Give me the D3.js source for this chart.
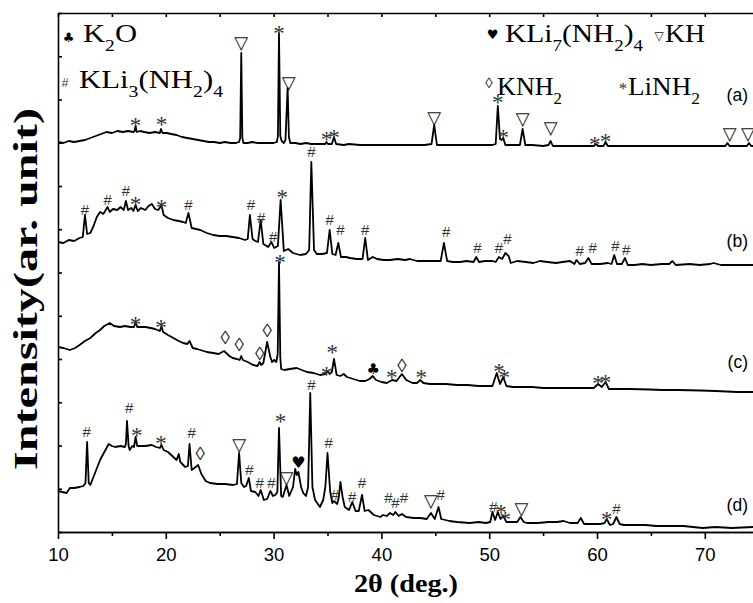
<!DOCTYPE html>
<html><head><meta charset="utf-8">
<script src="https://cdn.jsdelivr.net/npm/d3@7"></script>
<style>body{margin:0;background:#fff}</style>
</head><body>
<svg id="c" width="753" height="603"></svg>
<script>
// ---- data (2θ in degrees, intensity in arbitrary units with stacking offsets) ----
const traceA = [[10,390],[10.5,389],[11,391],[11.5,390],[12,391],[12.5,392],[13,394],[13.5,396],[14,398],[14.5,400],[15,399],[15.5,401],[16,400],[16.5,401],[17,400],[17.1,401],[17.2,406],[17.3,400],[17.6,401],[18,400],[18.5,399],[19,400],[19.45,399],[19.55,403],[19.7,399],[20.1,399],[20.5,398],[21,397],[21.5,395],[22,394],[22.5,393],[23,392],[23.5,391],[24,390],[24.5,390],[25,389],[25.5,390],[26,389],[26.5,389],[26.8,390],[26.9,394],[27.0,479],[27.1,394],[27.2,389],[27.6,389],[28,390],[28.5,389],[29,389],[29.5,389],[30,389],[30.3,390],[30.4,396],[30.5,499],[30.62,396],[30.75,391],[30.95,389],[31.1,392],[31.3,444],[31.42,395],[31.55,389],[32,389],[32.5,388],[33,389],[33.5,388],[34,388],[34.5,388],[34.8,388],[34.9,390],[35.05,388],[35.4,388],[35.6,395],[35.8,388],[36.5,387],[37,388],[38,387],[39,387],[40,387],[41,387],[42,387],[43,387],[44,387],[44.65,388],[44.9,407],[45.15,387],[45.6,387],[46.5,387],[47.5,387],[48.5,387],[49.5,387],[50.3,387],[50.6,388],[50.8,426],[51.0,393],[51.15,392],[51.3,394],[51.5,387],[52,387],[52.85,387],[53.1,403],[53.35,387],[54,387],[55,386],[55.5,387],[55.7,391],[55.9,386],[57,386],[58,386],[59,386],[59.7,386],[59.9,388],[60.1,386],[60.6,386],[60.8,390],[61.0,386],[62,386],[64,386],[66,386],[68,386],[70,386],[71.9,386],[72.1,389],[72.3,386],[73,386],[73.9,386],[74.1,389],[74.3,386],[76,386],[80,386]];

const traceB = [[10,290],[10.5,289],[11,292],[11.5,291],[12,294],[12.3,295],[12.5,317],[12.7,298],[13,299],[13.3,306],[13.6,315],[13.9,320],[14.2,318],[14.6,325],[14.8,320],[15.1,323],[15.5,322],[15.8,325],[16.1,322],[16.3,331],[16.5,322],[16.8,324],[17.0,321],[17.2,327],[17.4,321],[17.7,324],[18.1,322],[18.4,326],[18.7,328],[19.0,323],[19.3,322],[19.6,327],[19.8,317],[20.2,314],[20.7,312],[21.2,311],[21.6,310],[21.85,309],[22.1,319],[22.4,304],[22.8,303],[23.2,302],[23.8,299],[24.4,297],[25,296],[25.6,296],[26.2,295],[26.8,294],[27.35,292],[27.6,293],[27.8,317],[28.05,293],[28.3,291],[28.55,290],[28.8,312],[29.05,288],[29.5,285],[29.8,290],[30.05,284],[30.4,286],[30.65,332],[30.95,281],[31.35,283],[31.8,279],[32.45,277],[33.0,278],[33.3,282],[33.5,370],[33.75,282],[34.0,278],[34.5,278],[34.95,279],[35.2,302],[35.45,278],[35.75,277],[36.0,289],[36.25,275],[36.7,275],[37.1,274],[37.7,273],[38.25,273],[38.5,294],[38.75,272],[39.2,275],[39.6,273],[40.2,272],[40.8,272],[41.5,273],[42.2,272],[42.65,273],[43.3,271],[44,271],[44.7,271],[45.5,271],[45.8,289],[46.1,271],[46.6,270],[47.3,270],[47.9,271],[48.55,270],[48.8,275],[49.05,270],[49.6,271],[50.3,271],[50.6,270],[50.9,275],[51.2,273],[51.5,279],[51.8,276],[52.0,269],[52.6,271],[53.4,270],[54.1,269],[54.7,271],[55.4,270],[56.2,269],[56.8,270],[57.5,271],[57.9,268],[58.1,272],[58.4,268],[58.9,269],[59.2,274],[59.5,268],[60.3,268],[61.0,269],[61.35,268],[61.6,277],[61.85,268],[62.3,268],[62.6,274],[62.85,267],[63.5,267],[64.2,268],[65,267],[66,268],[66.7,268],[67.0,271],[67.3,267],[68.6,268],[69.5,267],[70.5,268],[70.8,269],[71.5,267],[72.5,267],[74.5,267],[80,267]];

const traceC = [[10,185],[10.5,184],[11.1,182],[11.6,184],[12.0,187],[12.5,191],[13.0,194],[13.5,199],[13.9,202],[14.3,206],[14.8,209],[15.2,206],[15.75,205],[16.2,206],[16.7,205],[17.05,205],[17.2,210],[17.35,205],[17.8,205],[18.1,205],[18.6,204],[19.0,203],[19.45,201],[19.6,206],[19.75,200],[20.2,197],[20.7,194],[21.2,191],[21.6,189],[22.0,188],[22.2,191],[22.5,184],[22.9,183],[23.2,182],[23.8,180],[24.4,179],[24.9,178],[25.4,181],[25.9,176],[26.2,174],[26.6,173],[26.85,172],[27.0,176],[27.15,172],[27.6,170],[28.1,167],[28.5,166],[28.7,170],[28.85,167],[29.05,169],[29.4,190],[29.7,175],[29.85,170],[30.05,172],[30.25,170],[30.38,178],[30.5,270],[30.62,175],[30.7,163],[31.0,162],[31.5,163],[32.15,164],[32.6,162],[33.1,160],[33.7,159],[34.3,157],[34.8,158],[35.0,161],[35.2,158],[35.4,160],[35.6,173],[35.85,157],[36.2,156],[36.5,158],[36.8,155],[37.4,153],[38.0,151],[38.5,151],[38.9,153],[39.2,156],[39.5,152],[40.0,150],[40.5,149],[41.0,152],[41.4,151],[41.9,158],[42.3,152],[42.9,149],[43.3,149],[43.6,152],[43.9,149],[44.5,148],[45.1,148],[46,148],[47,147],[48,147],[49,146],[49.8,146],[50.3,146],[50.7,159],[51.0,148],[51.3,155],[51.6,146],[52.2,145],[53,145],[54,145],[55,144],[56.6,144],[58,144],[59,144],[59.7,144],[60.1,148],[60.45,145],[60.8,150],[61.1,143],[62,143],[63,143],[64.9,142.5],[66,142],[67.5,142],[69.6,141.5],[71,141],[73,140],[74.5,140],[80,140]];

const traceD = [[10,41],[10.4,40],[10.8,39],[11.1,44],[11.5,44],[12.0,45],[12.35,46],[12.55,49],[12.7,90],[12.85,49],[13.0,47],[13.4,58],[13.9,72],[14.3,80],[14.7,88],[15.0,86],[15.3,85],[15.8,86],[16.2,85],[16.3,88],[16.4,111],[16.55,86],[16.65,82],[16.9,86],[17.05,85],[17.2,95],[17.35,86],[17.6,86],[18.1,86],[18.7,87],[19.1,85],[19.45,84],[19.6,87],[19.8,82],[20.2,80],[20.6,76],[21.0,72],[21.2,78],[21.35,70],[21.8,65],[22.05,66],[22.2,88],[22.4,62],[22.65,64],[23.0,67],[23.3,58],[23.7,51],[24.1,49],[24.8,48],[25.5,48],[26.25,47],[26.6,48],[26.8,79],[27.0,49],[27.25,45],[27.45,46],[27.7,54],[27.9,41],[28.3,40],[28.6,36],[28.8,42],[29.1,32],[29.4,33],[29.7,41],[29.95,36],[30.15,37],[30.35,40],[30.5,104],[30.7,36],[30.85,35],[31.2,47],[31.45,36],[31.8,45],[32.0,63],[32.15,57],[32.3,60],[32.55,45],[32.75,39],[33.0,36],[33.2,45],[33.4,139],[33.6,45],[33.85,32],[34.3,25],[34.6,32],[34.8,45],[35.0,79],[35.25,40],[35.45,29],[35.6,31],[35.9,28],[36.05,35],[36.2,50],[36.4,35],[36.6,25],[37.0,22],[37.3,30],[37.6,21],[37.9,21],[38.2,37],[38.45,21],[38.8,22],[39.3,17],[39.9,15],[40.15,17],[40.5,16],[40.8,19],[41.1,17],[41.3,20],[41.6,16],[41.9,18],[42.3,15],[43,14],[43.6,14],[44.2,13],[44.6,19],[44.95,13],[45.3,25],[45.55,13],[46.3,11],[47,10],[48.2,9],[49,10],[49.7,9],[50.1,10],[50.3,20],[50.55,12],[50.8,20],[51.05,13],[51.3,16],[51.6,10],[51.9,10],[52.6,10],[52.9,15],[53.2,10],[53.5,9],[54.5,9],[55.5,10],[56.3,10],[56.9,11],[57.5,9],[58.2,9],[58.5,14],[58.8,8],[59.5,8],[60.3,8],[60.7,9],[60.9,13],[61.2,7],[61.5,8],[61.8,15],[62.1,8],[62.5,7],[63.5,7],[64.5,7],[65.5,6],[66.8,6],[68,6],[69.8,4],[71,5],[72.5,4],[74.5,5],[80,5]];

// phase markers: [2θ, intensity, symbol]
const markersA = [[17.2,411,"*"],[19.6,412,"*"],[27.0,490,"▽"],[30.5,503,"*"],[31.4,450,"▽"],[34.9,397,"*"],[35.6,399,"*"],[44.9,415,"▽"],[50.8,434,"*"],[51.3,399,"*"],[53.1,414,"▽"],[55.7,405,"▽"],[59.8,392,"*"],[60.8,395,"*"],[72.3,399,"▽"],[74.0,399,"▽"]];
const markersB = [[12.5,322,"#"],[14.6,332,"#"],[16.3,341,"#"],[17.2,332,"*"],[19.6,329,"*"],[22.1,327,"#"],[27.9,327,"#"],[28.85,314,"#"],[29.95,295,"#"],[30.8,339,"*"],[33.5,380,"#"],[35.2,312,"#"],[36.2,302,"#"],[38.5,302,"#"],[46.0,300,"#"],[48.9,284,"#"],[50.9,284,"#"],[51.7,293,"#"],[58.4,281,"#"],[59.6,284,"#"],[61.7,286,"#"],[62.7,282,"#"]];
const markersC = [[17.2,212,"*"],[19.55,209,"*"],[25.5,195,"◊"],[26.8,188,"◊"],[28.7,179,"◊"],[29.4,202,"◊"],[30.6,274,"*"],[34.9,162,"*"],[35.45,184,"*"],[39.25,163,"♣"],[40.95,159,"*"],[41.9,167,"◊"],[43.7,159,"*"],[50.9,165,"*"],[51.4,159,"*"],[60.1,153,"*"],[60.8,154,"*"]];
const markersD = [[12.66,100,"#"],[16.6,124,"#"],[17.3,101,"*"],[19.55,93,"*"],[22.4,99,"#"],[23.2,79,"◊"],[26.8,88,"▽"],[27.75,62,"#"],[28.7,49,"#"],[29.8,49,"#"],[30.65,115,"*"],[31.2,55,"▽"],[32.3,70,"♥"],[33.5,147,"#"],[35.1,89,"#"],[35.7,37,"#"],[37.3,35,"#"],[38.2,49,"#"],[40.65,34,"#"],[41.3,29,"#"],[42.1,34,"#"],[44.6,32,"▽"],[45.5,37,"#"],[50.4,25,"#"],[51.1,24,"*"],[51.5,17,"*"],[53.0,24,"▽"],[60.9,17,"*"],[61.8,23,"#"]];

const traceNames = ["(a)","(b)","(c)","(d)"];
const xMajor = [10,20,30,40,50,60,70];
const xMinor = [15,25,35,45,55,65,75];
const legendSymbols = ["♣","#","♥","▽","◊","*"];
const legendNames = ["K_2O","KLi_3(NH_2)_4","KLi_7(NH_2)_4","KH","KNH_2","LiNH_2"];

// ---- drawing ----
const svg = d3.select("#c");
const x = d3.scaleLinear().domain([10,80]).range([58,812.6]);
const y = d3.scaleLinear().domain([0,519]).range([532,13]);
const yTicks = d3.range(0,13).map(i=>i*519/12);

const line = d3.line().x(d=>x(d[0])).y(d=>y(d[1]));
[traceA,traceB,traceC,traceD].forEach(t=>{
  svg.append("path").datum(t).attr("d",line)
    .attr("fill","none").attr("stroke","#000").attr("stroke-width",1.8)
    .attr("stroke-linejoin","round");
});

const symStyle = {
  "#":{font:"Liberation Sans",size:15,fill:"#333",dy:"0.35em"},
  "*":{font:"Liberation Serif",size:23,fill:"#333",dy:"0.53em"},
  "▽":{font:"DejaVu Sans",size:18,fill:"#111",dy:"0.38em"},
  "◊":{font:"Liberation Serif",size:19,fill:"#222",dy:"0.36em"},
  "♣":{font:"DejaVu Sans",size:15,fill:"#000",dy:"0.36em"},
  "♥":{font:"DejaVu Sans",size:16,fill:"#000",dy:"0.36em"}
};
function sym(g, sx, sy, s, sizeOverride){
  const st = symStyle[s];
  g.append("text").attr("x",sx).attr("y",sy).attr("dy",st.dy)
   .attr("text-anchor","middle").attr("font-family",st.font)
   .attr("font-size",sizeOverride||st.size).attr("fill",st.fill).text(s);
}
const mg = svg.append("g");
[markersA,markersB,markersC,markersD].forEach(ms=>{
  ms.forEach(m=> sym(mg, x(m[0]), y(m[1]), m[2]));
});

// axes
function styleAxis(g){
  g.selectAll("path,line").attr("stroke","#000").attr("stroke-width",1.6);
}
svg.append("g").attr("transform","translate(0,532)")
  .call(d3.axisBottom(x).tickValues(xMinor).tickSize(4).tickSizeOuter(0).tickFormat(""))
  .call(styleAxis);
const gx = svg.append("g").attr("transform","translate(0,532)")
  .call(d3.axisBottom(x).tickValues(xMajor).tickSize(7).tickSizeOuter(0).tickPadding(9).tickFormat(d3.format("d")))
  .call(styleAxis);
gx.selectAll("text").attr("font-family","Liberation Sans, Arial").attr("font-size",18.5).attr("fill","#000");
svg.append("g").attr("transform","translate(0,13)")
  .call(d3.axisBottom(x).tickValues(xMajor.concat(xMinor)).tickSize(4).tickSizeOuter(0).tickFormat(""))
  .call(styleAxis);
svg.append("g").attr("transform","translate(58,0)")
  .call(d3.axisRight(y).tickValues(yTicks).tickSize(4).tickSizeOuter(0).tickFormat(""))
  .call(styleAxis);

// trace labels
const labelY = [101,247,368,511];
traceNames.forEach((n,i)=>{
  svg.append("text").attr("x",748).attr("y",labelY[i]).attr("text-anchor","end")
    .attr("font-family","Liberation Sans, Arial").attr("font-size",17.5).attr("fill","#000").text(n);
});

// axis titles
svg.append("text").attr("x",406).attr("y",592).attr("text-anchor","middle")
  .attr("font-family","Liberation Serif").attr("font-weight","bold").attr("font-size",26)
  .attr("textLength",104).attr("lengthAdjust","spacingAndGlyphs").text("2θ (deg.)");
svg.append("text").attr("transform","translate(37,289) rotate(-90)").attr("text-anchor","middle")
  .attr("font-family","Liberation Serif").attr("font-weight","bold").attr("font-size",34)
  .attr("textLength",362).attr("lengthAdjust","spacingAndGlyphs").text("Intensity(ar. unit)");

// legend
const legLayout = [
  {sx:68.5, sy:37, tx:83, ty:41.7, len:54, ss:13},
  {sx:65, sy:82.5, tx:79, ty:88.3, len:144, ss:12},
  {sx:492.5, sy:34, tx:505, ty:41.7, len:138, ss:13},
  {sx:659, sy:35, tx:665, ty:41.7, len:40, ss:12},
  {sx:489, sy:82.5, tx:497, ty:95, len:65, ss:15},
  {sx:623, sy:85, tx:628, ty:95, len:72, ss:17}
];
function segments(name){
  const segs=[]; let buf="";
  for (let k=0;k<name.length;k++){
    if (name[k]==="_"){ if(buf){segs.push({t:buf,sub:false});buf="";}
      segs.push({t:name[k+1],sub:true}); k++; }
    else buf+=name[k];
  }
  if(buf) segs.push({t:buf,sub:false});
  return segs;
}
const lg = svg.append("g");
legendNames.forEach((name,i)=>{
  const L = legLayout[i];
  sym(lg, L.sx, L.sy, legendSymbols[i], L.ss);
  const t = lg.append("text").attr("x",L.tx).attr("y",L.ty)
    .attr("font-family","Liberation Serif").attr("font-size",25).attr("fill","#000")
    .attr("textLength",L.len).attr("lengthAdjust","spacingAndGlyphs");
  let prevSub=false;
  segments(name).forEach(s=>{
    const ts = t.append("tspan").text(s.t);
    if (s.sub){ ts.attr("font-size",16).attr("dy",9); }
    else if (prevSub){ ts.attr("dy",-9); }
    prevSub = s.sub;
  });
});
</script>
</body></html>
